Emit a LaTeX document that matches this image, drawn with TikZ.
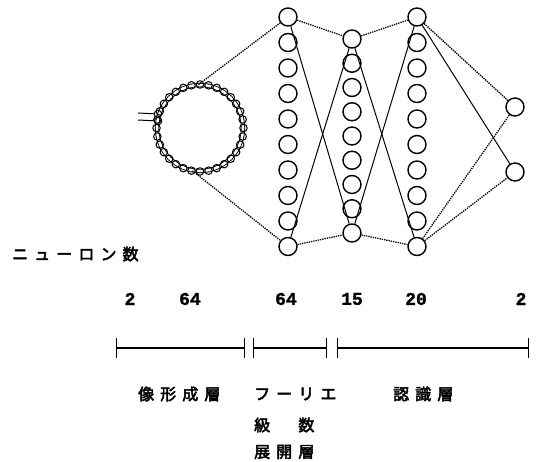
\documentclass[tikz,border=0pt]{standalone}
\usepackage{fontspec}
\newfontfamily\jpfont{Noto Sans CJK JP}[FakeBold=3, LetterSpace=38]
\newfontfamily\numfont{Liberation Mono}[FakeBold=1.5]
\usepackage{tikz}
\usetikzlibrary{arrows.meta, positioning}
\tikzstyle{neuron} = [circle, draw=black, line width=1.4pt, minimum size=18pt, inner sep=0pt]
\tikzstyle{bead} = [circle, draw=black, line width=1pt, minimum size=7.5pt, inner sep=0pt]
\tikzstyle{ringbox} = [circle, draw=black, double, double distance=2.5pt, line width=0.9pt, minimum size=86pt, inner sep=0pt]
\tikzstyle{weak} = [densely dotted, line width=1.3pt]
\tikzstyle{strong} = [line width=1pt]
\tikzstyle{span} = [line width=1.4pt, {Bar[width=20pt]}-{Bar[width=20pt]}]
\tikzstyle{jptext} = [font=\jpfont\fontsize{16}{18}\selectfont, inner sep=0pt]
\tikzstyle{numtext} = [font=\numfont\bfseries\fontsize{18}{20}\selectfont, inner sep=0pt]

\begin{document}
\begin{tikzpicture}[x=1pt, y=-1pt]
  \useasboundingbox (0,0) rectangle (536,462);

  % Ring of the image forming layer
  \node (ring) [ringbox] at (200,128) {};
  \foreach \a in {0,11.25,...,349} {
    \path (ring.center) ++(\a:43.5) node [bead] {};
  }
  \node (inbead1) [bead] at (158,114) {};
  \node (inbead2) [bead] at (158,121) {};
  \coordinate (in1) at (138,113);
  \coordinate (in2) at (138,120);
  \draw [strong] (in1) -- (inbead1);
  \draw [strong] (in2) -- (inbead2);

  % Nodes for the layers
  \foreach \i in {1,...,10} {
    \node (a\i) [neuron] at (288,{17+25.5*(\i-1)}) {};
    \node (c\i) [neuron] at (417,{17+25.5*(\i-1)}) {};
  }
  \foreach \i in {1,...,9} {
    \node (b\i) [neuron] at (352,{39+24.25*(\i-1)}) {};
  }
  \node (d1) [neuron] at (515,107) {};
  \node (d2) [neuron] at (515,172) {};

  % Connections
  \draw [weak] (ring.92) -- (a1);
  \draw [weak] (ring.260) -- (a10);

  \draw [weak] (a1) -- (b1);
  \draw [weak] (a10) -- (b9);
  \draw [strong] (a1) -- (b9);
  \draw [strong] (a10) -- (b1);

  \draw [weak] (b1) -- (c1);
  \draw [weak] (b9) -- (c10);
  \draw [strong] (b1) -- (c10);
  \draw [strong] (b9) -- (c1);

  \draw [weak] (c1) -- (d1);
  \draw [strong] (c1) -- (d2);
  \draw [weak] (c10) -- (d1);
  \draw [weak] (c10) -- (d2);

  % Neuron counts
  \node (title) [jptext, anchor=west] at (12,254) {ニューロン数};
  \node (n1) [numtext] at (130,299) {2};
  \node (n2) [numtext] at (190,299) {64};
  \node (n3) [numtext] at (286,299) {64};
  \node (n4) [numtext] at (352,299) {15};
  \node (n5) [numtext] at (416,299) {20};
  \node (n6) [numtext] at (521,299) {2};

  % Spans of the layers
  \coordinate (s1a) at (116,348);
  \coordinate (s1b) at (245,348);
  \coordinate (s2a) at (253,348);
  \coordinate (s2b) at (327,348);
  \coordinate (s3a) at (337,348);
  \coordinate (s3b) at (529,348);
  \draw [span] (s1a) -- (s1b);
  \draw [span] (s2a) -- (s2b);
  \draw [span] (s3a) -- (s3b);

  % Layer names
  \node (image) [jptext, anchor=west] at (138,394) {像形成層};
  \node (fourier) [jptext, anchor=west] at (254,394) {フーリエ};
  \node (series) [jptext, anchor=west] at (254,425) {級　数};
  \node (expand) [jptext, anchor=west] at (254,452) {展開層};
  \node (recog) [jptext, anchor=west] at (393,394) {認識層};

\end{tikzpicture}
\end{document}
